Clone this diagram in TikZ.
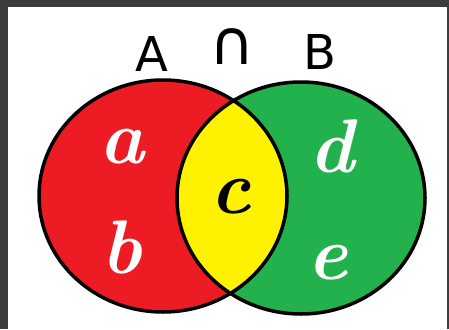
\documentclass[tikz,border=0pt]{standalone}
\usepackage{fontspec}
\newfontfamily\titlefont{DejaVu Sans}
\definecolor{framegray}{HTML}{3C3C3C}
\definecolor{vennred}{HTML}{ED1C24}
\definecolor{venngreen}{HTML}{22B14C}
\definecolor{vennyellow}{HTML}{FFF200}
\begin{document}
\begin{tikzpicture}[x=1pt,y=-1pt,
  setname/.style={font=\titlefont\fontsize{48}{48}\selectfont,inner sep=0pt},
  elem/.style={font=\fontsize{76}{76}\selectfont\bfseries\itshape,text=white,inner sep=0pt}]
\def\rx{124pt}
\def\ry{116pt}
% frame
\fill[framegray] (0,0) rectangle (449,329);
\fill[white] (8,7) rectangle (447,329);
\useasboundingbox (0,0) rectangle (449,329);
% the two sets
\fill[vennred] (163,196) ellipse [x radius=\rx,y radius=\ry];
\fill[venngreen] (301,198) ellipse [x radius=\rx,y radius=\ry];
\begin{scope}
  \clip (163,196) ellipse [x radius=\rx,y radius=\ry];
  \fill[vennyellow] (301,198) ellipse [x radius=\rx,y radius=\ry];
\end{scope}
\draw[line width=3.5pt] (163,196) ellipse [x radius=\rx,y radius=\ry];
\draw[line width=3.5pt] (301,198) ellipse [x radius=\rx,y radius=\ry];
% title
\node[setname] (setA) at (152,54) {A};
\node[setname,font=\titlefont\fontsize{62}{62}\selectfont] (capsym) at (232,47) {∩};
\node[setname] (setB) at (320,52) {B};
% elements
\node[elem] (elA) at (122,147) {a};
\node[elem] (elB) at (122,247) {b};
\node[elem,text=black] (elC) at (231,197) {c};
\node[elem] (elD) at (332,146) {d};
\node[elem] (elE) at (328,263) {e};
\end{tikzpicture}
\end{document}
